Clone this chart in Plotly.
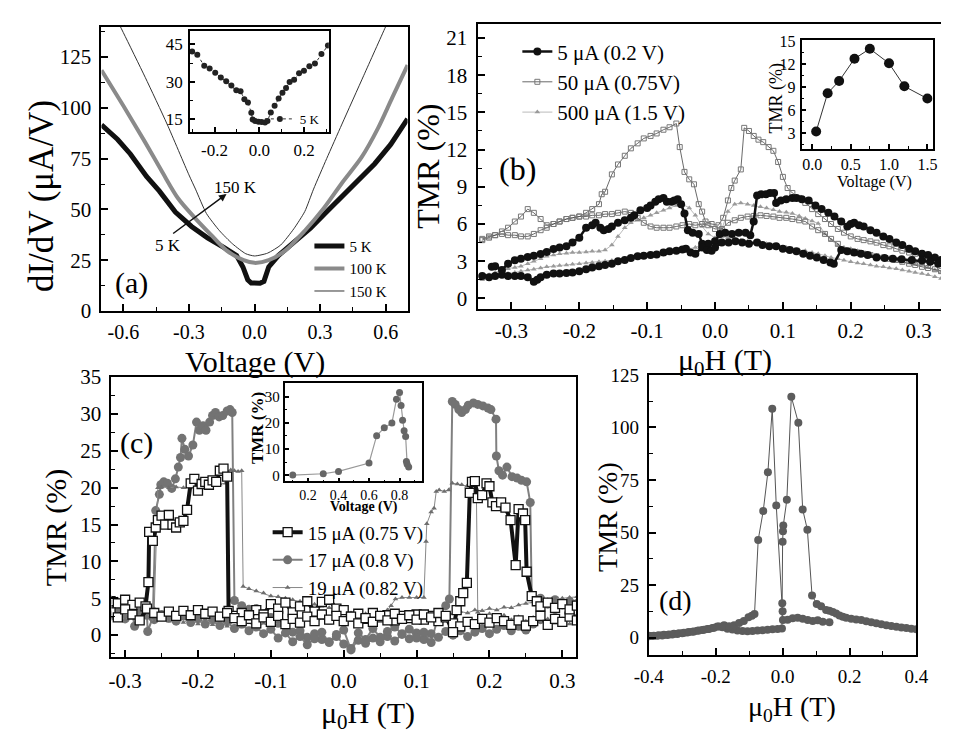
import plotly.graph_objects as go

SERIF = "Liberation Serif, Times New Roman, serif"
W, H = 953, 744

# ---------------- panel (a): dI/dV vs V ----------------
a_volt_5K = [-0.7, -0.626, -0.568, -0.494, -0.435, -0.362, -0.288, -0.215, -0.141, -0.082, -0.053, -0.031, -0.015,
             0.006, 0.025, 0.043, 0.065, 0.109, 0.182, 0.256, 0.329, 0.403, 0.476, 0.55, 0.623, 0.7]
a_didv_5K = [91.6, 84.4, 77.3, 66.2, 59.0, 48.7, 41.6, 36.0, 31.3, 27.3, 21.7, 15.4, 13.8,
             13.5, 13.7, 14.6, 21.7, 27.3, 33.7, 40.8, 48.7, 56.7, 63.8, 72.5, 82.0, 94.5]
a_volt_100K = [-0.7, -0.6, -0.5, -0.42, -0.35, -0.27, -0.2, -0.13, -0.05, 0.0, 0.065, 0.14, 0.23, 0.315, 0.4,
               0.49, 0.565, 0.63, 0.7]
a_didv_100K = [118.5, 101, 83, 68, 55.5, 45.5, 37.6, 30.0, 25.0, 23.7, 25.0, 29.7, 39.5, 50.3, 63.0,
               75.7, 90.0, 105, 121]
a_volt_150K = [-0.66, -0.6, -0.5, -0.4, -0.3, -0.27, -0.22, -0.16, -0.1, -0.04, 0.0, 0.06, 0.12, 0.18, 0.23,
               0.27, 0.33, 0.4, 0.5, 0.6, 0.65]
a_didv_150K = [150, 137, 115, 92, 67, 60, 48, 39.5, 33, 28.2, 27.1, 28.5, 32.5, 40.5, 49,
               60, 75, 92, 116, 140, 152]
a_legend = ["5 K", "100 K", "150 K"]

# inset of (a)
ia_volt = [-0.3, -0.277, -0.246, -0.222, -0.197, -0.172, -0.148, -0.125, -0.103, -0.084, -0.067, -0.051, -0.036,
           -0.03, -0.019, -0.004, 0.01, 0.025, 0.036, 0.051, 0.068, 0.086, 0.103, 0.119, 0.135, 0.155, 0.177,
           0.199, 0.223, 0.248, 0.277, 0.306]
ia_didv = [42.1, 40.8, 36.4, 35.3, 33.6, 31.7, 30.2, 28.5, 26.6, 26.2, 23.1, 21.8, 17.7,
           15.0, 14.4, 14.1, 14.0, 13.8, 14.4, 17.8, 20.5, 23.4, 25.7, 27.5, 29.9, 30.8, 33.4,
           34.4, 36.2, 37.3, 41.1, 44.5]

# ---------------- panel (b): TMR vs field, three bias currents ----------------
b_blk_up_h = [-0.329, -0.324, -0.314, -0.305, -0.295, -0.286, -0.276, -0.267, -0.257, -0.248, -0.238, -0.229,
              -0.219, -0.21, -0.2, -0.19, -0.181, -0.176, -0.169, -0.164, -0.157, -0.152, -0.143, -0.133,
              -0.124, -0.119, -0.11, -0.1, -0.095, -0.088, -0.083, -0.076, -0.071, -0.064, -0.06, -0.055,
              -0.05, -0.045, -0.04, -0.033, -0.024, -0.019, -0.01, 0.0, 0.007, 0.015, 0.025, 0.035, 0.045,
              0.052, 0.057, 0.062, 0.068, 0.075, 0.081, 0.087, 0.09, 0.097, 0.105, 0.114, 0.12, 0.128, 0.138,
              0.148, 0.157, 0.167, 0.176, 0.186, 0.195, 0.2, 0.205, 0.212, 0.219, 0.229, 0.238, 0.248, 0.257,
              0.267, 0.276, 0.286, 0.295, 0.305, 0.314, 0.324, 0.333, 0.343]
b_blk_up_t = [2.55, 2.6, 2.3, 2.8, 3.07, 3.2, 3.33, 3.45, 3.59, 3.75, 3.98, 4.1,
              4.2, 4.5, 4.9, 5.7, 5.9, 6.1, 5.7, 5.5, 5.6, 5.8, 6.1, 6.3,
              6.5, 6.7, 7.1, 7.3, 7.5, 7.8, 8.0, 8.1, 7.8, 7.8, 7.9, 8.0,
              7.6, 6.85, 5.5, 5.3, 5.2, 4.4, 4.4, 4.6, 5.2, 5.3, 5.2, 5.3, 5.3,
              5.1, 6.2, 8.3, 8.4, 8.4, 8.5, 8.5, 7.7, 7.9, 8.0, 8.1, 8.1, 8.0, 7.9,
              7.5, 7.2, 6.9, 6.6, 6.2, 5.8, 6.0, 6.1, 5.9, 5.8, 5.5, 5.3, 5.0, 4.8,
              4.5, 4.3, 4.0, 3.8, 3.6, 3.5, 3.3, 3.1, 2.9]
b_blk_lo_h = [-0.343, -0.333, -0.324, -0.314, -0.305, -0.295, -0.286, -0.276, -0.267, -0.262, -0.257, -0.248,
              -0.238, -0.229, -0.219, -0.21, -0.2, -0.19, -0.181, -0.171, -0.162, -0.152, -0.143, -0.133,
              -0.124, -0.114, -0.105, -0.095, -0.086, -0.076, -0.067, -0.057, -0.048, -0.043, -0.036, -0.029,
              -0.019, -0.012, -0.005, 0.0, 0.01, 0.02, 0.03, 0.04, 0.05, 0.062, 0.07, 0.08, 0.09, 0.1, 0.11,
              0.12, 0.13, 0.14, 0.15, 0.16, 0.17, 0.175, 0.186, 0.195, 0.205, 0.215, 0.225, 0.238, 0.25, 0.262,
              0.275, 0.29, 0.305, 0.317, 0.329, 0.343]
b_blk_lo_t = [1.8, 1.7, 1.8, 1.9, 1.8, 1.8, 1.8, 1.7, 1.35, 1.5, 1.7, 1.9,
              2.0, 2.0, 2.05, 2.1, 2.2, 2.35, 2.5, 2.6, 2.7, 2.8, 3.0, 3.1,
              3.25, 3.4, 3.45, 3.5, 3.55, 3.7, 3.8, 3.85, 3.95, 4.0, 3.7, 3.6,
              4.1, 3.9, 3.85, 4.1, 4.5, 4.5, 4.6, 4.5, 4.4, 4.5, 4.3, 4.2, 4.2, 4.0, 3.9,
              3.8, 3.6, 3.45, 3.3, 3.1, 2.9, 2.8, 3.9, 3.8, 3.7, 3.6, 3.5, 3.3, 3.25, 3.2,
              3.15, 3.1, 3.05, 2.95, 2.8, 2.7]
b_sq_up_h = [-0.343, -0.333, -0.324, -0.314, -0.305, -0.295, -0.286, -0.276, -0.267, -0.257, -0.248, -0.238,
             -0.229, -0.219, -0.21, -0.2, -0.19, -0.181, -0.171, -0.167, -0.162, -0.152, -0.143, -0.133,
             -0.124, -0.114, -0.105, -0.095, -0.086, -0.076, -0.067, -0.057, -0.052, -0.045, -0.038, -0.031,
             -0.024, -0.019, -0.014, -0.005, 0.005, 0.012, 0.019, 0.024, 0.029, 0.038, 0.043, 0.05, 0.057,
             0.064, 0.071, 0.079, 0.086, 0.093, 0.1, 0.107, 0.114, 0.124, 0.133, 0.143, 0.152, 0.162, 0.171,
             0.181, 0.19, 0.2, 0.21, 0.219, 0.229, 0.238, 0.248, 0.257, 0.267, 0.276, 0.286, 0.295, 0.305,
             0.314, 0.324, 0.333, 0.343]
b_sq_up_t = [4.8, 5.0, 5.1, 5.4, 5.7, 6.2, 6.6, 7.2, 6.9, 6.4, 5.9, 6.0,
             6.2, 6.4, 6.5, 6.6, 6.9, 7.2, 7.6, 8.4, 8.6, 10.0, 10.8, 11.5,
             12.1, 12.5, 12.9, 13.1, 13.3, 13.6, 13.8, 14.1, 12.2, 10.2, 9.6, 9.2,
             7.6, 7.0, 6.2, 6.0, 5.9, 6.5, 7.9, 8.9, 9.5, 10.4, 13.75, 13.5, 13.1,
             12.8, 12.6, 12.2, 11.9, 11.0, 9.8, 8.9, 8.5, 8.1, 7.7, 7.2, 6.8, 6.4, 6.0,
             5.6, 5.3, 5.0, 4.8, 4.7, 4.6, 4.5, 4.3, 4.2, 4.0, 3.85, 3.7, 3.6, 3.4,
             3.3, 3.1, 3.0, 2.9]
b_field = [-0.343, -0.333, -0.324, -0.314, -0.305, -0.295, -0.286, -0.276, -0.267, -0.257, -0.248, -0.238,
           -0.229, -0.219, -0.21, -0.2, -0.19, -0.181, -0.171, -0.162, -0.152, -0.143, -0.133, -0.124,
           -0.114, -0.105, -0.095, -0.086, -0.076, -0.067, -0.057, -0.048, -0.038, -0.029, -0.019, -0.01,
           0.0, 0.01, 0.019, 0.029, 0.038, 0.048, 0.057, 0.067, 0.076, 0.086, 0.095, 0.105, 0.114, 0.124,
           0.133, 0.143, 0.152, 0.162, 0.171, 0.181, 0.19, 0.2, 0.21, 0.219, 0.229, 0.238, 0.248, 0.257,
           0.267, 0.276, 0.286, 0.295, 0.305, 0.314, 0.324, 0.333, 0.343]
b_sq_lo_t = [4.7, 4.9, 5.1, 5.2, 5.1, 5.1, 5.0, 5.0, 5.2, 5.5, 5.7, 6.0,
             6.2, 6.4, 6.5, 6.6, 6.6, 6.7, 6.7, 6.8, 6.8, 6.9, 7.0, 6.9,
             6.5, 6.1, 5.8, 5.7, 5.7, 5.7, 5.8, 5.9, 6.0, 5.9, 6.0, 5.9,
             5.6, 5.6, 6.1, 6.3, 6.5, 6.6, 6.65, 6.7, 6.65, 6.6, 6.5, 6.5, 6.4, 6.3,
             6.2, 5.8, 5.5, 5.2, 4.8, 4.4, 3.9, 3.8, 3.7, 3.6, 3.5, 3.4, 3.3, 3.2,
             3.1, 2.95, 2.8, 2.7, 2.55, 2.45, 2.35, 2.2, 2.1]
b_tri_up_t = [1.7, 1.9, 2.1, 2.3, 2.4, 2.5, 2.6, 2.8, 3.0, 3.2, 3.4, 3.5,
              3.6, 3.65, 3.7, 3.7, 3.75, 3.8, 3.8, 3.9, 4.3, 5.0, 5.7, 6.1,
              6.3, 6.5, 6.7, 6.9, 7.1, 7.3, 7.5, 7.6, 7.3, 6.7, 5.8, 5.2,
              4.9, 5.6, 7.0, 7.6, 7.7, 7.6, 7.5, 7.4, 7.3, 7.15, 7.0, 6.95, 6.85, 6.65,
              6.45, 6.25, 6.05, 5.2, 4.7, 4.3, 4.1, 4.0, 3.85, 3.7, 3.6, 3.46, 3.35, 3.2,
              3.05, 2.94, 2.85, 2.75, 2.7, 2.5, 2.3, 2.1, 1.9]
b_tri_lo_t = [1.5, 1.65, 1.8, 1.9, 2.0, 2.1, 2.2, 2.3, 2.35, 2.45, 2.55, 2.6,
              2.65, 2.7, 2.75, 2.8, 2.85, 2.9, 2.95, 3.0, 3.05, 3.1, 3.15, 3.2,
              3.3, 3.35, 3.4, 3.5, 3.55, 3.6, 3.7, 3.85, 4.0, 4.1, 4.25, 4.4,
              4.6, 5.0, 4.9, 4.8, 4.7, 4.6, 4.5, 4.45, 4.4, 4.3, 4.2, 4.1, 4.0, 3.9,
              3.85, 3.7, 3.6, 3.45, 3.3, 3.2, 3.07, 2.95, 2.85, 2.8, 2.7, 2.6, 2.55, 2.45,
              2.4, 2.3, 2.2, 2.1, 2.0, 1.9, 1.75, 1.6, 1.5]
b_legend = ["5 \u03bcA (0.2 V)", "50 \u03bcA (0.75V)", "500 \u03bcA (1.5 V)"]

# inset of (b)
ib_volt = [0.05, 0.2, 0.35, 0.55, 0.75, 1.0, 1.2, 1.5]
ib_tmr = [3.2, 8.2, 9.8, 12.7, 14.0, 12.1, 9.1, 7.5]

# ---------------- panel (c): TMR vs field near the peak bias ----------------
c_grid_neg = [-0.32, -0.31, -0.30, -0.29, -0.28, -0.27, -0.26, -0.25, -0.24, -0.23, -0.22, -0.21, -0.20, -0.19,
              -0.18, -0.17, -0.16, -0.15, -0.14, -0.13, -0.12, -0.11, -0.10, -0.09, -0.08, -0.07, -0.06, -0.05,
              -0.04, -0.03, -0.02, -0.01, 0.0, 0.01, 0.02, 0.03, 0.04, 0.05, 0.06, 0.07, 0.08, 0.09, 0.10, 0.11,
              0.12, 0.13, 0.14]
c_grid_pos = [-0.15, -0.14, -0.13, -0.12, -0.11, -0.10, -0.09, -0.08, -0.07, -0.06, -0.05, -0.04, -0.03, -0.02,
              -0.01, 0.0, 0.01, 0.02, 0.03, 0.04, 0.05, 0.06, 0.07, 0.08, 0.09, 0.10, 0.11, 0.12, 0.13, 0.14,
              0.15, 0.16, 0.17, 0.18, 0.19, 0.20, 0.21, 0.22, 0.23, 0.24, 0.25, 0.26, 0.27, 0.28, 0.29, 0.30,
              0.31, 0.32]
# 15 uA, squares
c_sq_D_h = [-0.32, -0.31, -0.30, -0.29, -0.28, -0.272, -0.268, -0.267, -0.262, -0.258, -0.255, -0.25, -0.245,
            -0.24, -0.235, -0.23, -0.225, -0.22, -0.215, -0.21, -0.205, -0.2, -0.195, -0.19, -0.185, -0.18,
            -0.175, -0.17, -0.165, -0.16, -0.158]
c_sq_D_t = [4.6, 4.3, 4.8, 4.1, 4.4, 3.9, 7.2, 14.0, 12.8, 14.6, 15.6, 16.2, 15.0,
            16.3, 15.0, 14.6, 15.3, 15.5, 17.0, 20.6, 21.2, 19.6, 20.5, 20.8, 20.4, 21.0,
            20.8, 22.3, 22.6, 21.5, 3.3]
c_sq_D_base = [2.6, 3.0, 2.2, 3.4, 2.8, 4.2, 3.6, 4.4, 3.1, 3.9, 4.6, 3.2, 4.5, 4.8, 3.6, 3.4, 2.5, 2.9, 2.2,
               3.0, 2.4, 2.7, 2.0, 2.6, 2.3, 2.8, 2.1, 2.6, 1.9, 2.4, 1.6, 1.2, 1.8, 1.5, 2.2, 1.7, 2.3, 1.9,
               1.4, 2.0, 1.3, 1.9, 2.6, 1.4, 2.2, 1.8, 2.5, 2.0]
c_sq_U_base = [3.1, 2.4, 3.5, 2.8, 2.0, 3.6, 3.0, 2.5, 3.2, 2.6, 3.3, 2.7, 3.4, 2.9, 3.2, 2.5, 3.0, 2.3, 1.9,
               2.7, 1.6, 2.4, 1.8, 2.6, 1.5, 2.2, 1.7, 2.5, 1.9, 2.8, 2.1, 2.6, 1.9, 2.5, 1.6, 2.3, 1.8, 2.6,
               2.0, 2.9, 2.2, 2.7, 2.1, 2.8, 2.4, 3.0, 2.6]
c_sq_U_h = [0.15, 0.155, 0.16, 0.164, 0.169, 0.173, 0.176, 0.18, 0.184, 0.19, 0.196, 0.2, 0.204, 0.209, 0.216,
            0.222, 0.229, 0.236, 0.24, 0.246, 0.249, 0.251, 0.258, 0.265, 0.27, 0.28, 0.29, 0.3, 0.31, 0.32]
c_sq_U_t = [0.4, 3.4, 4.6, 5.7, 7.1, 19.3, 20.8, 20.9, 18.6, 19.0, 20.6, 20.2, 18.0, 17.5, 18.0,
            17.3, 15.6, 9.5, 17.1, 16.5, 15.6, 8.6, 5.3, 4.6, 3.9, 4.4, 3.7, 4.2, 3.5, 4.0]
# 17 uA, circles
c_ci_D_h = [-0.32, -0.31, -0.30, -0.29, -0.287, -0.28, -0.27, -0.269, -0.262, -0.258, -0.253, -0.251, -0.247,
            -0.242, -0.236, -0.231, -0.227, -0.224, -0.222, -0.218, -0.213, -0.207, -0.202, -0.198, -0.193,
            -0.189, -0.184, -0.18, -0.176, -0.171, -0.166, -0.16, -0.156, -0.153]
c_ci_D_t = [3.8, 3.2, 3.6, 2.9, 1.2, 3.1, 2.7, 0.5, 2.4, 16.9, 19.1, 20.4, 20.8,
            20.6, 19.9, 21.2, 22.8, 24.1, 26.7, 25.2, 24.3, 25.8, 28.9, 27.8, 28.4,
            27.8, 28.9, 29.8, 30.2, 29.6, 29.8, 30.4, 30.6, 30.2]
c_ci_D_base = [4.7, 4.0, 3.5, 3.6, 2.9, 2.4, 1.6, 1.2, 0.4, 0.6, -0.3, 0.2, -0.6, -0.9, -0.2, -1.2, -1.8, -0.7,
               -1.1, -0.4, -0.9, -0.2, -0.8, 0.1, -0.5, 0.3, -0.6, 0.2, -0.3, 0.5, 0.0, 0.6, -0.2, 0.4, 0.9,
               0.2, 0.8, 1.3, 0.6, 1.2, 0.7, 1.5, 2.1, 1.6, 2.4, 1.9, 2.7, 2.3]
c_ci_U_base = [2.6, 3.4, 2.2, 3.0, 2.5, 3.3, 2.1, 2.8, 2.3, 1.9, 2.6, 1.7, 2.2, 1.5, 2.0, 1.3, 1.8, 0.9, 1.5,
               0.6, 1.1, 0.2, 0.8, -0.4, 0.3, -0.9, -0.2, -1.3, -0.5, 0.4, -1.0, 0.1, 0.7, -2.0, 0.3, -0.6,
               0.9, -0.3, 0.5, 1.1, 0.2, 0.8, -0.4, 0.4, -1.0, 2.7, 4.0]
c_ci_U_h = [0.145, 0.149, 0.153, 0.158, 0.162, 0.167, 0.171, 0.178, 0.184, 0.191, 0.198, 0.202, 0.209, 0.2095,
            0.213, 0.218, 0.224, 0.231, 0.238, 0.244, 0.251, 0.256, 0.258, 0.265, 0.27, 0.28, 0.29, 0.3, 0.31,
            0.32]
c_ci_U_t = [4.9, 31.7, 31.3, 30.6, 30.2, 30.6, 31.2, 31.5, 31.3, 31.1, 30.8, 30.6, 29.3, 24.3,
            22.3, 21.7, 22.8, 21.5, 21.3, 21.0, 20.8, 18.0, 5.3, 4.6, 5.0, 4.2, 4.8, 4.1, 4.6, 4.3]
# 19 uA, triangles
c_tr_D_h = [-0.32, -0.31, -0.30, -0.29, -0.28, -0.27, -0.26, -0.255, -0.25, -0.24, -0.23, -0.22, -0.21, -0.20,
            -0.19, -0.18, -0.17, -0.162, -0.16, -0.155, -0.15, -0.145, -0.14, -0.138]
c_tr_D_t = [5.2, 4.9, 4.6, 4.4, 4.0, 3.8, 3.6, 20.0, 20.1, 20.0, 20.1, 20.0, 20.2, 20.1,
            20.3, 20.4, 20.5, 20.6, 22.3, 22.4, 22.3, 22.2, 22.3, 6.6]
c_tr_D_base = [6.3, 6.0, 5.7, 5.3, 5.2, 5.0, 4.8, 4.6, 4.4, 4.2, 3.9, 3.7, 3.5, 3.2, 3.0, 2.6, 2.9, 2.3, 2.6,
               2.0, 2.4, 1.8, 2.2, 1.7, 2.1, 2.4, 2.0, 2.6, 2.9, 3.2, 3.0, 3.4, 3.3, 3.6, 3.4, 3.8, 3.7, 4.1,
               4.3, 4.5, 4.6, 4.8, 4.9, 5.0, 5.1, 5.2]
c_tr_U_base = [2.4, 3.0, 2.1, 2.8, 2.2, 2.9, 1.8, 2.5, 1.9, 2.6, 1.7, 2.3, 1.5, 2.2, 1.4, 2.0, 1.2, 1.9, 1.1,
               1.7, 0.9, 1.6, 1.0, 1.8, 1.2, 2.0, 1.3, 2.1, 1.5, 2.3, 1.6, 2.4, 1.8, 2.6, 2.0, 2.8, 2.3, 3.0,
               3.4]
c_tr_U_h = [0.065, 0.071, 0.08, 0.09, 0.1, 0.11, 0.113, 0.114, 0.12, 0.124, 0.127, 0.131, 0.138, 0.144, 0.149,
            0.156, 0.162, 0.169, 0.176, 0.182, 0.184, 0.19, 0.2, 0.21, 0.22, 0.23, 0.24, 0.25, 0.26, 0.27,
            0.28, 0.29, 0.3, 0.31, 0.32]
c_tr_U_t = [4.0, 4.9, 5.1, 5.1, 5.1, 5.1, 12.7, 15.1, 16.7, 17.2, 19.5, 19.7, 19.5, 19.7, 20.6,
            20.5, 20.4, 20.2, 20.2, 19.9, 3.1, 2.6, 2.9, 2.3, 2.7, 2.1, 2.5, 1.9, 2.4, 1.8,
            2.2, 1.6, 2.0, 1.5, 1.9]
c_legend = ["15 \u03bcA (0.75 V)", "17 \u03bcA (0.8 V)", "19 \u03bcA (0.82 V)"]

# inset of (c)
ic_volt = [0.1, 0.3, 0.4, 0.6, 0.65, 0.7, 0.75, 0.78, 0.8, 0.81, 0.82, 0.83, 0.84, 0.845, 0.85, 0.86]
ic_tmr = [0.1, 0.6, 1.5, 4.7, 15.1, 18.1, 19.9, 29.0, 31.6, 26.6, 21.0, 17.0, 14.8, 5.3, 4.2, 3.2]

# ---------------- panel (d) ----------------
d_A_h = [0.4, 0.385, 0.37, 0.355, 0.34, 0.325, 0.31, 0.295, 0.28, 0.265, 0.25, 0.235, 0.22, 0.205, 0.19, 0.18,
         0.17, 0.16, 0.15, 0.14, 0.13, 0.115, 0.102, 0.088, 0.074, 0.06, 0.047, 0.026, 0.0126, 0.002, 0.001,
         0.0, -0.002, -0.015, -0.03, -0.045, -0.06, -0.075, -0.09, -0.105, -0.12, -0.135, -0.15, -0.165,
         -0.18, -0.195, -0.21, -0.225, -0.24, -0.255, -0.27, -0.285, -0.3, -0.315, -0.33, -0.345, -0.36,
         -0.375, -0.39, -0.4]
d_A_t = [4.0, 4.3, 4.6, 4.9, 5.2, 5.6, 6.0, 6.4, 6.9, 7.4, 7.9, 8.4, 8.7, 9.0, 9.5, 10.0,
         10.6, 11.5, 12.3, 12.8, 13.2, 15.0, 16.1, 20.1, 51.4, 61.0, 102.3, 114.6, 65.6, 53.4, 50.6,
         45.7, 4.4, 4.2, 4.0, 3.8, 3.6, 3.4, 3.2, 3.1, 3.2, 3.5, 3.9, 4.3,
         5.0, 5.3, 4.6, 4.2, 3.7, 3.3, 2.8, 2.5, 2.1, 1.8, 1.5, 1.3, 1.1,
         0.9, 0.8, 0.7]
d_B_h = [-0.4, -0.385, -0.37, -0.355, -0.34, -0.325, -0.31, -0.295, -0.28, -0.265, -0.25, -0.235, -0.22, -0.205,
         -0.19, -0.175, -0.16, -0.145, -0.13, -0.116, -0.102, -0.092, -0.084, -0.073, -0.058, -0.044, -0.031,
         -0.019, -0.001, 0.0, 0.001, 0.015, 0.03, 0.045, 0.06, 0.075, 0.09, 0.105, 0.12, 0.14]
d_B_t = [0.9, 1.0, 1.2, 1.4, 1.6, 1.9, 2.1, 2.4, 2.7, 3.0, 3.4, 3.8, 4.2, 4.8,
         5.4, 6.0, 5.5, 6.0, 7.0, 8.0, 9.7, 10.5, 11.3, 46.5, 60.3, 78.7, 108.9,
         62.9, 16.4, 12.6, 8.4, 8.6, 9.3, 9.5, 9.0, 8.4, 8.0, 8.3, 7.6, 7.4]

# ---------------- tick labels ----------------
a_xt = [-0.6, -0.3, 0.0, 0.3, 0.6]; a_xl = ["-0.6", "-0.3", "0.0", "0.3", "0.6"]
a_yt = [0, 25, 50, 75, 100, 125]; a_yl = ["0", "25", "50", "75", "100", "125"]
ia_xt = [-0.2, 0.0, 0.2]; ia_xl = ["-0.2", "0.0", "0.2"]
ia_yt = [15, 30, 45]; ia_yl = ["15", "30", "45"]
b_xt = [-0.3, -0.2, -0.1, 0.0, 0.1, 0.2, 0.3]; b_xl = ["-0.3", "-0.2", "-0.1", "0.0", "0.1", "0.2", "0.3"]
b_yt = [0, 3, 6, 9, 12, 15, 18, 21]; b_yl = [str(v) for v in b_yt]
ib_xt = [0.0, 0.5, 1.0, 1.5]; ib_xl = ["0.0", "0.5", "1.0", "1.5"]
ib_yt = [3, 6, 9, 12, 15]; ib_yl = [str(v) for v in ib_yt]
c_xt = b_xt; c_xl = b_xl
c_yt = [0, 5, 10, 15, 20, 25, 30, 35]; c_yl = [str(v) for v in c_yt]
ic_xt = [0.2, 0.4, 0.6, 0.8]; ic_xl = ["0.2", "0.4", "0.6", "0.8"]
ic_yt = [0, 10, 20, 30]; ic_yl = [str(v) for v in ic_yt]
d_xt = [-0.4, -0.2, 0.0, 0.2, 0.4]; d_xl = ["-0.4", "-0.2", "0.0", "0.2", "0.4"]
d_yt = [0, 25, 50, 75, 100, 125]; d_yl = [str(v) for v in d_yt]


def check(*pairs):
    for name, xs, ys in pairs:
        if len(xs) != len(ys):
            raise ValueError(f"{name}: {len(xs)} vs {len(ys)}")


check(("a5", a_volt_5K, a_didv_5K), ("a100", a_volt_100K, a_didv_100K), ("a150", a_volt_150K, a_didv_150K),
      ("ia", ia_volt, ia_didv), ("bbu", b_blk_up_h, b_blk_up_t), ("bbl", b_blk_lo_h, b_blk_lo_t),
      ("bsu", b_sq_up_h, b_sq_up_t), ("bsl", b_field, b_sq_lo_t), ("btu", b_field, b_tri_up_t),
      ("btl", b_field, b_tri_lo_t), ("ib", ib_volt, ib_tmr), ("csD", c_sq_D_h, c_sq_D_t),
      ("csDb", c_grid_pos, c_sq_D_base), ("csUb", c_grid_neg, c_sq_U_base), ("csU", c_sq_U_h, c_sq_U_t),
      ("ccD", c_ci_D_h, c_ci_D_t), ("ccDb", c_grid_pos, c_ci_D_base), ("ccUb", c_grid_neg, c_ci_U_base),
      ("ccU", c_ci_U_h, c_ci_U_t), ("ctD", c_tr_D_h, c_tr_D_t), ("ctDb", c_grid_pos[2:], c_tr_D_base),
      ("ctUb", c_grid_neg[:39], c_tr_U_base), ("ctU", c_tr_U_h, c_tr_U_t), ("ic", ic_volt, ic_tmr),
      ("dA", d_A_h, d_A_t), ("dB", d_B_h, d_B_t))


def join(*parts):
    out = []
    for i, p in enumerate(parts):
        if i:
            out.append(None)
        out.extend(p)
    return out


def PX(x):
    return min(1.0, max(0.0, x / W))


def PY(y):
    return min(1.0, max(0.0, 1 - y / H))


fig = go.Figure()

# (a)
fig.add_trace(go.Scatter(x=a_volt_5K, y=a_didv_5K, mode="lines", name=a_legend[0],
                         line=dict(color="#111111", width=5), xaxis="x", yaxis="y", legend="legend"))
fig.add_trace(go.Scatter(x=a_volt_100K, y=a_didv_100K, mode="lines", name=a_legend[1],
                         line=dict(color="#8a8a8a", width=4, shape="spline", smoothing=0.8),
                         xaxis="x", yaxis="y", legend="legend"))
fig.add_trace(go.Scatter(x=a_volt_150K, y=a_didv_150K, mode="lines", name=a_legend[2],
                         line=dict(color="#333333", width=1, shape="spline", smoothing=0.6),
                         xaxis="x", yaxis="y", legend="legend"))
fig.add_trace(go.Scatter(x=ia_volt, y=ia_didv, mode="lines+markers", name="5 K",
                         line=dict(color="#333333", width=1, dash="dot"),
                         marker=dict(color="#222222", size=6), xaxis="x2", yaxis="y2", legend="legend2"))

# (b)
fig.add_trace(go.Scatter(x=join(b_field, b_field), y=join(b_tri_up_t, b_tri_lo_t), mode="lines+markers",
                         name=b_legend[2], legendrank=3,
                         line=dict(color="#a8a8a8", width=0.8),
                         marker=dict(symbol="triangle-up", color="#9a9a9a", size=5),
                         xaxis="x3", yaxis="y3", legend="legend3"))
fig.add_trace(go.Scatter(x=join(b_sq_up_h, b_field), y=join(b_sq_up_t, b_sq_lo_t), mode="lines+markers",
                         name=b_legend[1], legendrank=2,
                         line=dict(color="#444444", width=0.8),
                         marker=dict(symbol="square-open", color="#777777", size=5, line=dict(width=1)),
                         xaxis="x3", yaxis="y3", legend="legend3"))
fig.add_trace(go.Scatter(x=join(b_blk_up_h, b_blk_lo_h), y=join(b_blk_up_t, b_blk_lo_t), mode="lines+markers",
                         name=b_legend[0], legendrank=1,
                         line=dict(color="#111111", width=2.5),
                         marker=dict(color="#111111", size=8),
                         xaxis="x3", yaxis="y3", legend="legend3"))
fig.add_trace(go.Scatter(x=ib_volt, y=ib_tmr, mode="lines+markers", showlegend=False,
                         line=dict(color="#333333", width=1), marker=dict(color="#111111", size=10),
                         xaxis="x4", yaxis="y4"))

# (c)
fig.add_trace(go.Scatter(x=join(c_ci_D_h + c_grid_pos, c_grid_neg + c_ci_U_h),
                         y=join(c_ci_D_t + c_ci_D_base, c_ci_U_base + c_ci_U_t),
                         mode="lines+markers", name=c_legend[1], legendrank=2,
                         line=dict(color="#808080", width=2), marker=dict(color="#737373", size=9),
                         xaxis="x5", yaxis="y5", legend="legend4"))
fig.add_trace(go.Scatter(x=join(c_tr_D_h + c_grid_pos[2:], c_grid_neg[:39] + c_tr_U_h),
                         y=join(c_tr_D_t + c_tr_D_base, c_tr_U_base + c_tr_U_t),
                         mode="lines+markers", name=c_legend[2], legendrank=3,
                         line=dict(color="#888888", width=1),
                         marker=dict(symbol="triangle-up", color="#6e6e6e", size=5),
                         xaxis="x5", yaxis="y5", legend="legend4"))
fig.add_trace(go.Scatter(x=join(c_sq_D_h + c_grid_pos, c_grid_neg + c_sq_U_h),
                         y=join(c_sq_D_t + c_sq_D_base, c_sq_U_base + c_sq_U_t),
                         mode="lines+markers", name=c_legend[0], legendrank=1,
                         line=dict(color="#111111", width=4),
                         marker=dict(symbol="square", color="white", size=9,
                                     line=dict(color="#111111", width=1.3)),
                         xaxis="x5", yaxis="y5", legend="legend4"))
fig.add_trace(go.Scatter(x=ic_volt, y=ic_tmr, mode="lines+markers", showlegend=False,
                         line=dict(color="#999999", width=1.2), marker=dict(color="#666666", size=7),
                         xaxis="x6", yaxis="y6"))

# (d)
fig.add_trace(go.Scatter(x=join(d_A_h, d_B_h), y=join(d_A_t, d_B_t), mode="lines+markers", showlegend=False,
                         line=dict(color="#555555", width=1), marker=dict(color="#5c5c5c", size=8),
                         xaxis="x7", yaxis="y7"))


def axis(domain, rng, tv, tl, minor, size, anchor, lw=2.0, tlen=7, mlen=4, standoff=4, mirror=True):
    return dict(domain=domain, range=rng, anchor=anchor, tickmode="array", tickvals=tv, ticktext=tl,
                ticks="inside", ticklen=tlen, tickwidth=1.5, tickcolor="black",
                minor=dict(dtick=minor, tick0=0, ticks="inside", ticklen=mlen, tickwidth=1.2,
                           tickcolor="black", showgrid=False),
                showline=True, linewidth=lw, linecolor="black", mirror=mirror,
                showgrid=False, zeroline=False, ticklabelstandoff=standoff,
                tickfont=dict(family=SERIF, size=size, color="black"))


layout = dict(
    width=W, height=H, margin=dict(l=0, r=0, t=0, b=0),
    paper_bgcolor="white", plot_bgcolor="white",
    font=dict(family=SERIF, color="black"),
    xaxis=axis([PX(89), PX(404)], [-0.7, 0.7], a_xt, a_xl, 0.15, 20, "y", standoff=2),
    yaxis=axis([PY(309), PY(15)], [0, 140], a_yt, a_yl, 12.5, 21, "x"),
    xaxis2=axis([PX(180), PX(323)], [-0.31, 0.31], ia_xt, ia_xl, 0.1, 17, "y2", lw=1.5, tlen=5, mlen=3, standoff=2),
    yaxis2=axis([PY(124), PY(19.3)], [10, 50.4], ia_yt, ia_yl, 7.5, 17, "x2", lw=1.5, tlen=5, mlen=3, standoff=2),
    xaxis3=axis([PX(476), 1.0], [-0.35, 0.333], b_xt, b_xl, 0.05, 21, "y3", standoff=2),
    yaxis3=axis([PY(307), PY(12.7)], [-0.86, 22.1], b_yt, b_yl, 1.5, 21, "x3", mirror=False),
    xaxis4=axis([PX(809.5), PX(944.5)], [-0.14, 1.57], ib_xt, ib_xl, 0.25, 16, "y4", lw=1.5, tlen=5, mlen=3,
                standoff=0),
    yaxis4=axis([PY(141.7), PY(29.3)], [0.9, 15.1], ib_yt, ib_yl, 1.5, 16, "x4", lw=1.5, tlen=5, mlen=3,
                standoff=1),
    xaxis5=axis([PX(99.3), PX(577.3)], [-0.3187, 0.3187], c_xt, c_xl, 0.05, 21, "y5"),
    yaxis5=axis([PY(666), PY(377.3)], [-2.9, 35], c_yt, c_yl, 2.5, 21, "x5"),
    xaxis6=axis([PX(278.3), PX(419.3)], [0.052, 0.95], ic_xt, ic_xl, 0.1, 14, "y6", lw=1.5, tlen=4, mlen=2,
                standoff=0),
    yaxis6=axis([PY(485), PY(383.3)], [-2.3, 35.2], ic_yt, ic_yl, 5, 15, "x6", lw=1.5, tlen=4, mlen=2,
                standoff=1),
    xaxis7=axis([PX(652.3), PX(927.7)], [-0.4, 0.4], d_xt, d_xl, 0.1, 19, "y7"),
    yaxis7=axis([PY(664), PY(375)], [-8, 125], d_yt, d_yl, 12.5, 19, "x7"),
    legend=dict(x=PX(303), y=PY(225), xanchor="left", yanchor="top", bgcolor="rgba(0,0,0,0)",
                font=dict(family=SERIF, size=15, color="black"), tracegroupgap=0),
    legend2=dict(x=PX(252), y=PY(95), xanchor="left", yanchor="top", bgcolor="rgba(0,0,0,0)",
                 font=dict(family=SERIF, size=13, color="black")),
    legend3=dict(x=PX(517), y=PY(20), xanchor="left", yanchor="top", bgcolor="rgba(0,0,0,0)",
                 font=dict(family=SERIF, size=21, color="black"), tracegroupgap=0),
    legend4=dict(x=PX(260), y=PY(518), xanchor="left", yanchor="top", bgcolor="rgba(0,0,0,0)",
                 font=dict(family=SERIF, size=19, color="black"), tracegroupgap=0),
)
fig.update_layout(**layout)


def ann(text, x, y, size, angle=0, bold=False):
    if bold:
        text = "<b>" + text + "</b>"
    return dict(text=text, x=PX(x), y=PY(y), xref="paper", yref="paper", showarrow=False,
                textangle=angle, xanchor="center", yanchor="middle",
                font=dict(family=SERIF, size=size, color="black"))


annotations = [
    ann("dI/dV (\u03bcA/V)", 28, 190, 35, -90),
    ann("Voltage (V)", 247.5, 362, 30),
    ann("(a)", 120, 280, 30),
    ann("TMR (%)", 425, 159, 32, -90),
    ann("\u03bc<sub>0</sub>H (T)", 731, 362, 30),
    ann("(b)", 517, 162, 32),
    ann("TMR (%)", 783.5, 89, 18, -90),
    ann("Voltage (V)", 885, 176, 16),
    ann("TMR (%)", 41.7, 533, 30, -90),
    ann("\u03bc<sub>0</sub>H (T)", 363, 726, 30),
    ann("(c)", 125, 445, 30),
    ann("TMR (%)", 249, 430, 17, -90, bold=True),
    ann("Voltage (V)", 359.5, 512, 14, bold=True),
    ann("TMR (%)", 609, 522, 28, -90),
    ann("\u03bc<sub>0</sub>H (T)", 800, 720, 28),
    ann("(d)", 680, 608, 28),
    dict(text="150 K", x=-0.088, y=60.6, xref="x", yref="y", showarrow=False,
         font=dict(family=SERIF, size=17, color="black")),
    dict(text="5 K", x=-0.395, y=32, xref="x", yref="y", showarrow=False,
         font=dict(family=SERIF, size=17, color="black")),
    dict(text="", x=-0.128, y=57.6, ax=-0.379, ay=37.6, xref="x", yref="y", axref="x", ayref="y",
         showarrow=True, arrowhead=2, arrowsize=1, arrowwidth=1.5, arrowcolor="#111111"),
]
fig.update_layout(annotations=annotations)

fig.write_html("out.html")
